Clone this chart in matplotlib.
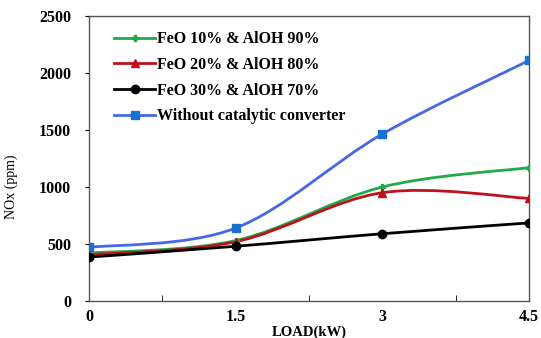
import numpy as np
import matplotlib
matplotlib.use("Agg")
import matplotlib.pyplot as plt
from matplotlib.path import Path
from matplotlib.patches import PathPatch
from matplotlib.lines import Line2D

load = [0, 1.5, 3, 4.5]
feo10 = [420, 530, 1000, 1170]
feo20 = [405, 520, 950, 900]
feo30 = [385, 480, 590, 685]
without = [470, 640, 1465, 2110]

labels = ["FeO 10% & AlOH 90%", "FeO 20% & AlOH 80%",
          "FeO 30% & AlOH 70%", "Without catalytic converter"]

plt.rcParams['font.family'] = ['Liberation Serif', 'DejaVu Serif']

fig = plt.figure(figsize=(5.41, 3.38), dpi=100)
ax = fig.add_axes([0.1645, 0.1095, 0.8135, 0.8432])


def smooth_path(xs, ys):
    pts = np.column_stack([xs, ys]).astype(float)
    n = len(pts)
    verts = [pts[0]]
    codes = [Path.MOVETO]
    for i in range(n - 1):
        p0 = pts[i - 1] if i > 0 else pts[i]
        p1 = pts[i]
        p2 = pts[i + 1]
        p3 = pts[i + 2] if i + 2 < n else pts[i + 1]
        c1 = p1 + (p2 - p0) / 6.0
        c2 = p2 - (p3 - p1) / 6.0
        verts += [c1, c2, p2]
        codes += [Path.CURVE4] * 3
    return Path(verts, codes)


series = [
    (feo10, "#22a94a", "#22a94a", "P", 5),
    (feo20, "#c0101c", "#c0101c", "^", 6),
    (feo30, "#000000", "#000000", "o", 6),
    (without, "#4668e6", "#1a6fd0", "s", 6),
]

handles = []
for (ys, lc, mc, mk, ms), lab in zip(series, labels):
    patch = PathPatch(smooth_path(load, ys), facecolor="none", edgecolor=lc,
                      lw=2.0, zorder=3)
    ax.add_patch(patch)
    ax.plot(load, ys, linestyle="none", marker=mk, color=mc, markersize=ms,
            zorder=4)
    handles.append(Line2D([], [], color=lc, lw=2.0, marker=mk,
                          markerfacecolor=mc, markeredgecolor=mc,
                          markersize=ms))

ax.set_xlim(0, 4.5)
ax.set_ylim(0, 2500)
ax.set_xticks([0, 1.5, 3, 4.5])
ax.set_xticklabels(["0", "1.5", "3", "4.5"])
ax.set_xticks([0.75, 2.25, 3.75], minor=True)
ax.set_yticks(np.arange(0, 2501, 500))
ax.tick_params(axis='x', direction='in', length=0, pad=6, labelsize=11.5)
ax.tick_params(axis='x', which='minor', direction='in', length=4)
ax.tick_params(axis='y', direction='out', length=3, pad=10, labelsize=11.5)
for lab in ax.get_xticklabels() + ax.get_yticklabels():
    lab.set_fontweight('bold')

for s in ax.spines.values():
    s.set_color("#555555")
    s.set_linewidth(1.0)

ax.set_xlabel("LOAD(kW)", fontsize=10.5, fontweight='bold')
ax.xaxis.set_label_coords(0.5, -0.085)
ax.set_ylabel("NOx (ppm)", fontsize=10)
ax.yaxis.set_label_coords(-0.161, 0.40)

leg = ax.legend(handles, labels, loc='upper left', bbox_to_anchor=(0.042, 0.968),
                frameon=False, prop={'weight': 'bold', 'size': 11.5},
                handlelength=2.6, handletextpad=0.1, labelspacing=0.6,
                borderaxespad=0)

fig.savefig("out.png", dpi=100)
